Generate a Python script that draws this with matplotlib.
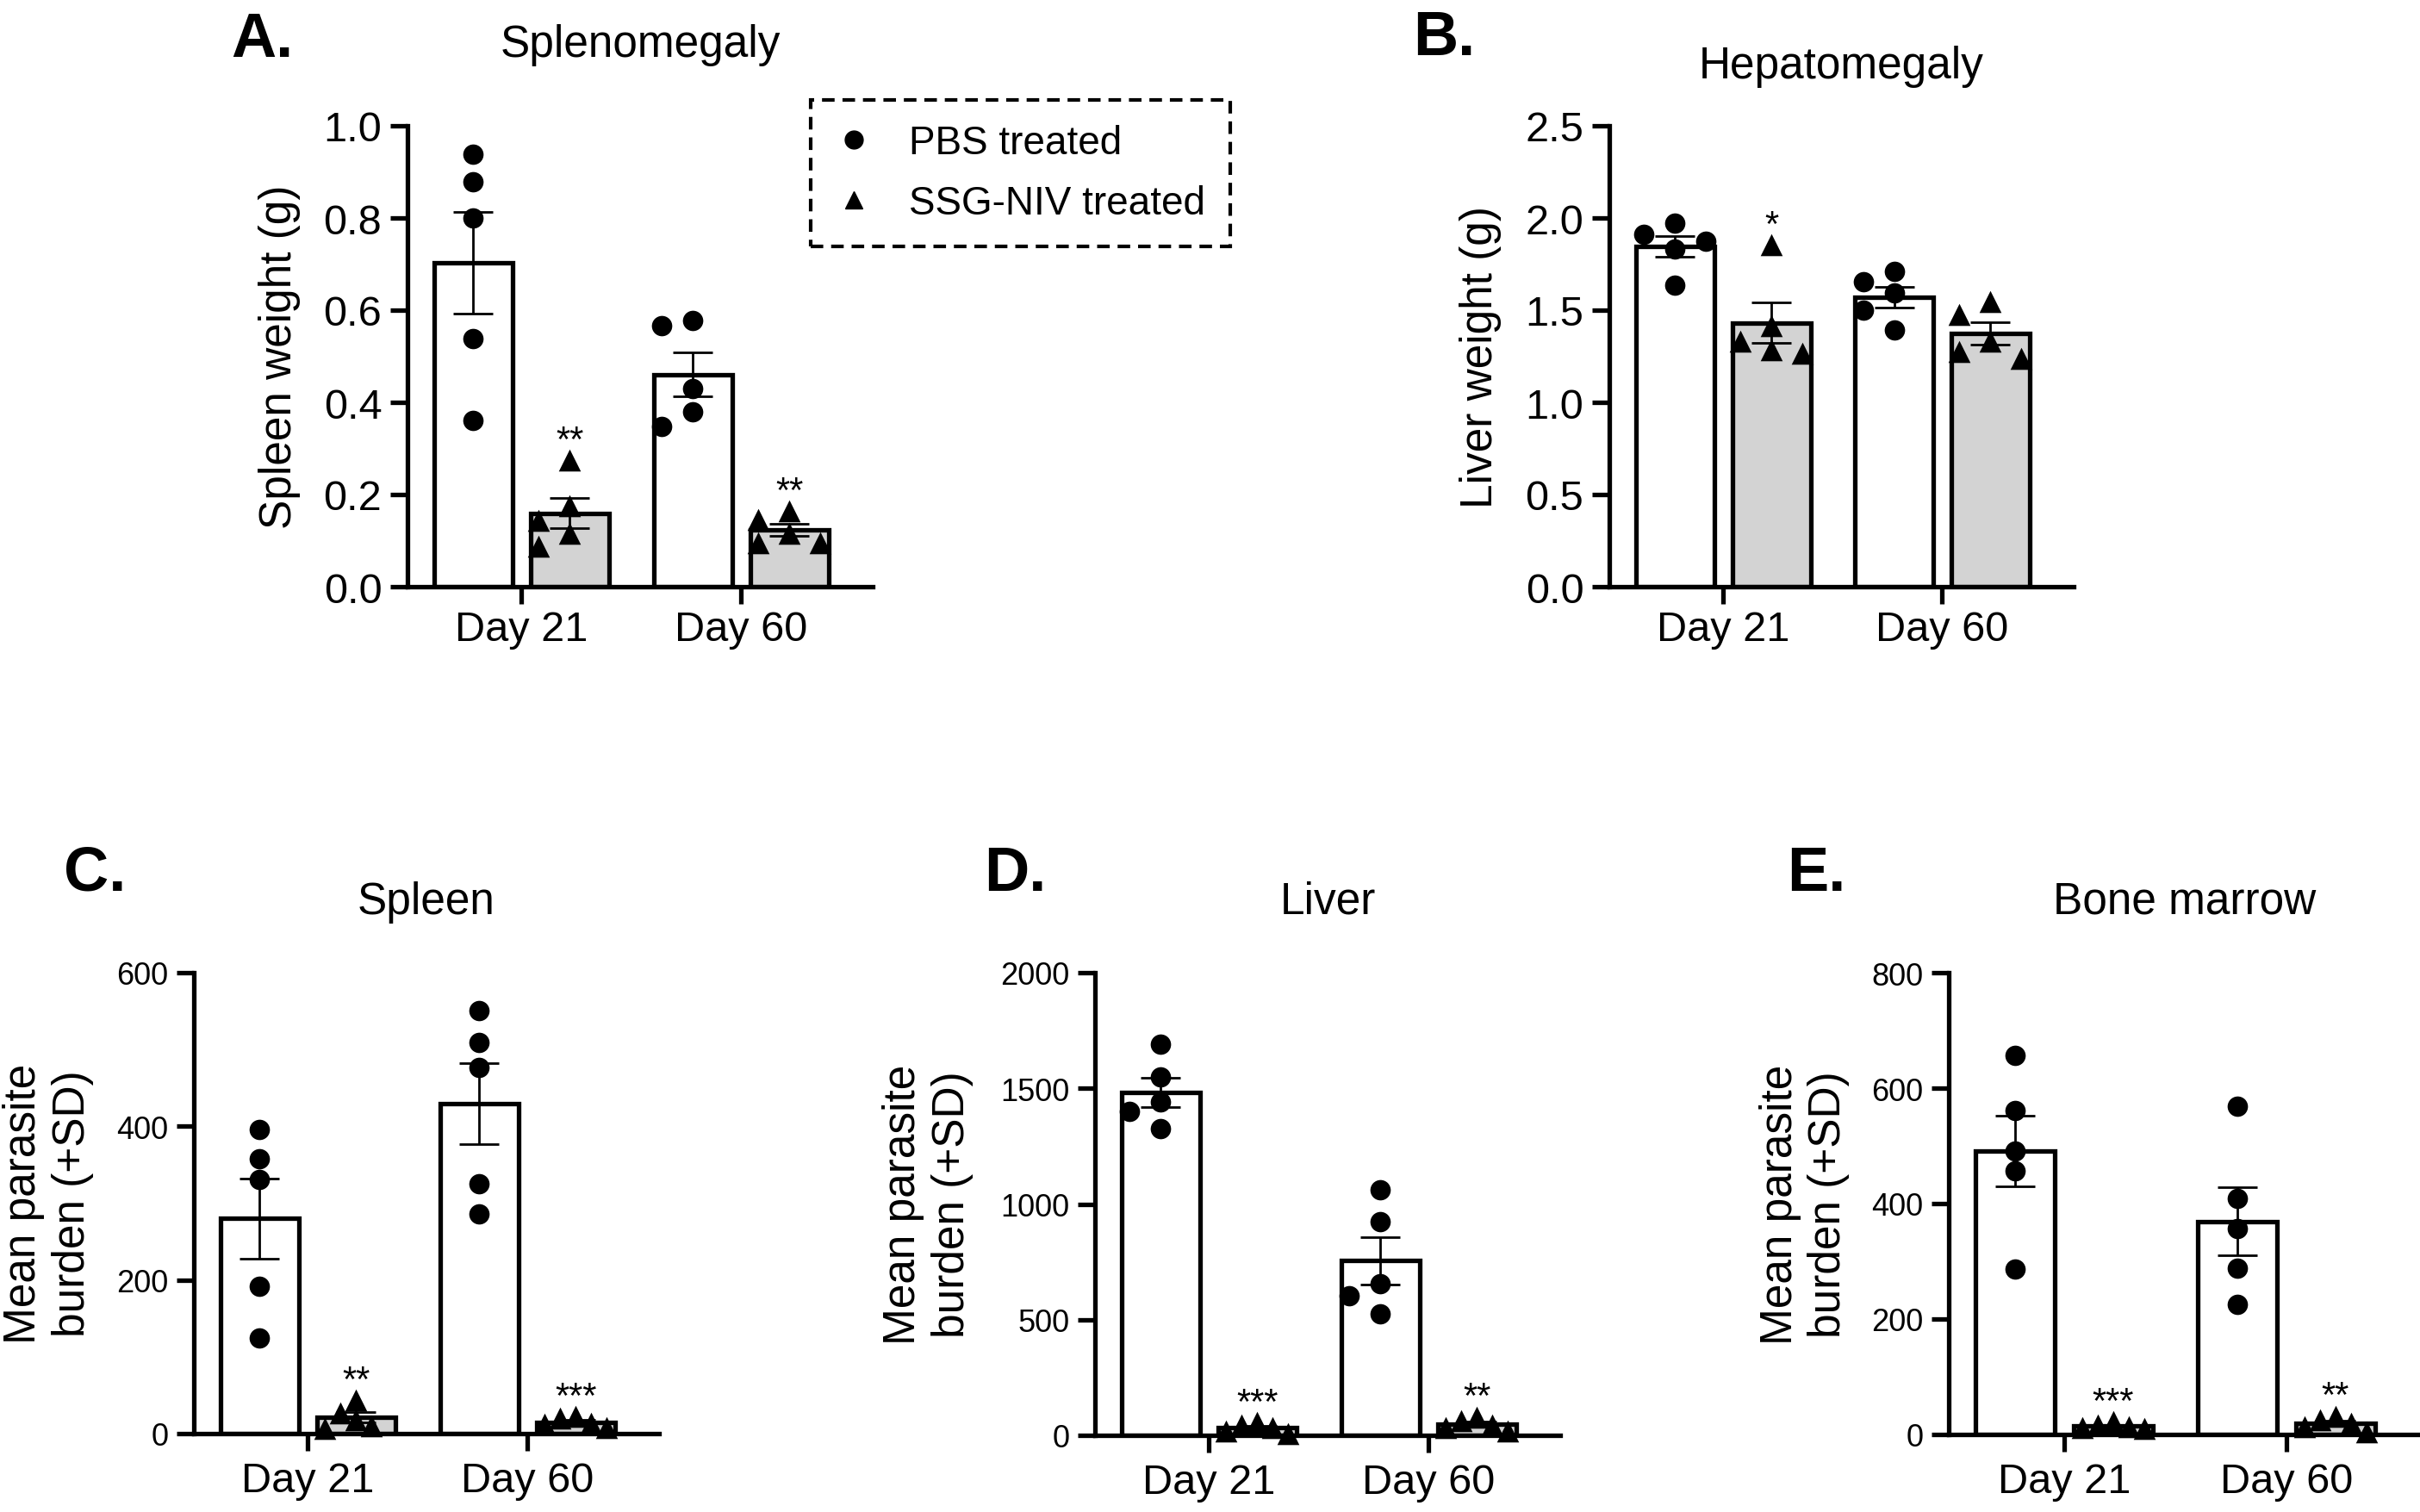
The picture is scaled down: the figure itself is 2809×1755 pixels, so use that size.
import numpy as np
import matplotlib
matplotlib.use("Agg")
import matplotlib.pyplot as plt
from matplotlib.lines import Line2D
from matplotlib.ticker import FormatStrFormatter

plt.rcParams['font.family'] = ['Liberation Sans', 'DejaVu Sans']

# ---- data ----
days = ['Day 21', 'Day 60']
group_names = ['PBS treated', 'SSG-NIV treated']

spleen_wt_pbs_d21 = [0.938, 0.879, 0.800, 0.538, 0.360]
spleen_wt_ssg_d21 = [0.275, 0.175, 0.144, 0.116, 0.088]
spleen_wt_pbs_d60 = [0.578, 0.567, 0.429, 0.379, 0.347]
spleen_wt_ssg_d60 = [0.164, 0.146, 0.116, 0.096, 0.096]

liver_wt_pbs_d21 = [1.973, 1.911, 1.876, 1.832, 1.635]
liver_wt_ssg_d21 = [1.857, 1.417, 1.330, 1.285, 1.266]
liver_wt_pbs_d60 = [1.711, 1.653, 1.595, 1.498, 1.392]
liver_wt_ssg_d60 = [1.547, 1.475, 1.333, 1.276, 1.236]

spleen_ld_pbs_d21 = [396, 358, 331, 192, 124]
spleen_ld_ssg_d21 = [44, 27, 18, 10, 7]
spleen_ld_pbs_d60 = [551, 509, 477, 325, 286]
spleen_ld_ssg_d60 = [22, 20, 13, 12, 8]

liver_ld_pbs_d21 = [1690, 1548, 1443, 1402, 1325]
liver_ld_ssg_d21 = [55, 45, 35, 20, 8]
liver_ld_pbs_d60 = [1063, 924, 656, 603, 527]
liver_ld_ssg_d60 = [80, 65, 45, 35, 20]

bm_ld_pbs_d21 = [656, 561, 491, 457, 287]
bm_ld_ssg_d21 = [22, 16, 14, 12, 10]
bm_ld_pbs_d60 = [569, 409, 356, 288, 225]
bm_ld_ssg_d60 = [32, 25, 20, 14, 5]

# significance marks for the SSG-NIV group (day 21, day 60)
stars_a = ['**', '**']
stars_b = ['*', '']
stars_c = ['**', '***']
stars_d = ['***', '**']
stars_e = ['***', '**']

W, H = 2809, 1756
fig = plt.figure(figsize=(W / 100, H / 100), dpi=100)

GREY = '#d3d3d3'
BAR_W = 0.357
OFF = 0.22


def px_axes(left, right, top, bottom):
    return fig.add_axes([left / W, 1 - bottom / H, (right - left) / W, (bottom - top) / H])


def swarm(ax, xc, vals, diam=22, step=36, limit=36):
    # greedy beeswarm in pixel space, squeezed if it gets too wide
    vals = np.asarray(vals, dtype=float)
    tr = ax.transData
    ypx = tr.transform(np.column_stack([np.full(len(vals), xc), vals]))[:, 1]
    dx = np.zeros(len(vals))
    placed = []
    for i in np.argsort(-vals, kind='stable'):
        for k in [0, -1, 1, -2, 2, -3, 3, -4, 4]:
            cand = k * step
            if all(np.hypot(cand - px, ypx[i] - py) >= diam for px, py in placed):
                break
        dx[i] = cand
        placed.append((cand, ypx[i]))
    m = np.abs(dx).max()
    if m > limit:
        dx *= limit / m
    ppu = tr.transform((1, 0))[0] - tr.transform((0, 0))[0]
    return xc + dx / ppu


def panel(ax, pbs, ssg, stars, ymax, ystep, fmt, ylabel, title, title_pad,
          ytick_size, xpad, ylabel_x):
    ax.set_xlim(-0.52, 1.6)
    ax.set_ylim(0, ymax)
    x = np.arange(len(days))
    for grp, dx, color, marker, size in [(pbs, -OFF, 'white', 'o', 290),
                                         (ssg, OFF, GREY, '^', 340)]:
        means = [np.mean(v) for v in grp]
        sems = [np.std(v, ddof=1) / np.sqrt(len(v)) for v in grp]
        ax.bar(x + dx, means, width=BAR_W, color=color, edgecolor='black',
               linewidth=3.8, zorder=2)
        ax.errorbar(x + dx, means, yerr=sems, fmt='none', ecolor='black',
                    elinewidth=2.0, capsize=16.5, capthick=2.0, zorder=3)
        for xi, v in zip(x + dx, grp):
            ax.scatter(swarm(ax, xi, v), v, s=size, marker=marker, color='black',
                       linewidths=0, zorder=4, clip_on=False)
    for xi, v, st in zip(x + OFF, ssg, stars):
        if st:
            ax.annotate(st, (xi, max(v)), xytext=(0, 8), textcoords='offset points',
                        ha='center', va='baseline', fontsize=30)
    for side in ['top', 'right']:
        ax.spines[side].set_visible(False)
    for side in ['left', 'bottom']:
        ax.spines[side].set_linewidth(3.8)
    ax.set_yticks(np.arange(0, ymax + ystep / 2, ystep))
    ax.yaxis.set_major_formatter(FormatStrFormatter(fmt))
    ax.set_xticks(x)
    ax.set_xticklabels(days)
    ax.tick_params(axis='both', direction='out', length=14.4, width=3.8)
    ax.tick_params(axis='y', labelsize=ytick_size, pad=7)
    ax.tick_params(axis='x', labelsize=35, pad=xpad)
    ax.set_ylabel(ylabel, fontsize=37)
    ax.yaxis.set_label_coords(ylabel_x, 0.5)
    ax.set_title(title, fontsize=37, pad=title_pad)


ax_a = px_axes(473, 1013, 147, 682)
panel(ax_a, [spleen_wt_pbs_d21, spleen_wt_pbs_d60], [spleen_wt_ssg_d21, spleen_wt_ssg_d60],
      stars_a, 1.0, 0.2, '%.1f', 'Spleen weight (g)', 'Splenomegaly', 58, 35, 5, -0.229)

ax_b = px_axes(1868, 2407, 147, 682)
panel(ax_b, [liver_wt_pbs_d21, liver_wt_pbs_d60], [liver_wt_ssg_d21, liver_wt_ssg_d60],
      stars_b, 2.5, 0.5, '%.1f', 'Liver weight (g)', 'Hepatomegaly', 40, 35, 5, -0.232)

ylab_burden = 'Mean parasite\nburden (+SD)'
ax_c = px_axes(225, 765, 1130, 1665)
panel(ax_c, [spleen_ld_pbs_d21, spleen_ld_pbs_d60], [spleen_ld_ssg_d21, spleen_ld_ssg_d60],
      stars_c, 600, 200, '%d', ylab_burden, 'Spleen', 50, 26, 9, -0.215)

ax_d = px_axes(1271, 1811, 1130, 1667)
panel(ax_d, [liver_ld_pbs_d21, liver_ld_pbs_d60], [liver_ld_ssg_d21, liver_ld_ssg_d60],
      stars_d, 2000, 500, '%d', ylab_burden, 'Liver', 50, 26, 9, -0.261)

ax_e = px_axes(2262, 2809, 1130, 1666)
panel(ax_e, [bm_ld_pbs_d21, bm_ld_pbs_d60], [bm_ld_ssg_d21, bm_ld_ssg_d60],
      stars_e, 800, 200, '%d', ylab_burden, 'Bone marrow', 50, 26, 9, -0.210)

# panel letters
for letter, px, py in [('A.', 268, 66), ('B.', 1640, 64), ('C.', 74, 1034),
                       ('D.', 1142, 1034), ('E.', 2074, 1034)]:
    fig.text(px / W, 1 - py / H, letter, fontsize=52, fontweight='bold',
             ha='left', va='baseline')

# legend
handles = [Line2D([], [], marker='o', ls='none', color='black', markersize=15),
           Line2D([], [], marker='^', ls='none', color='black', markersize=15)]
leg = fig.legend(handles, group_names, loc='upper left',
                 bbox_to_anchor=(941 / W, 1 - 117 / H), bbox_transform=fig.transFigure,
                 fontsize=33, frameon=True, fancybox=False, edgecolor='black',
                 framealpha=1, borderpad=0.62, labelspacing=0.55, handlelength=0.92,
                 handletextpad=0.95, borderaxespad=0, numpoints=1)
leg.get_frame().set_linewidth(3.0)
leg.get_frame().set_linestyle((0, (3.5, 2.2)))

fig.savefig('out.png', dpi=100)
